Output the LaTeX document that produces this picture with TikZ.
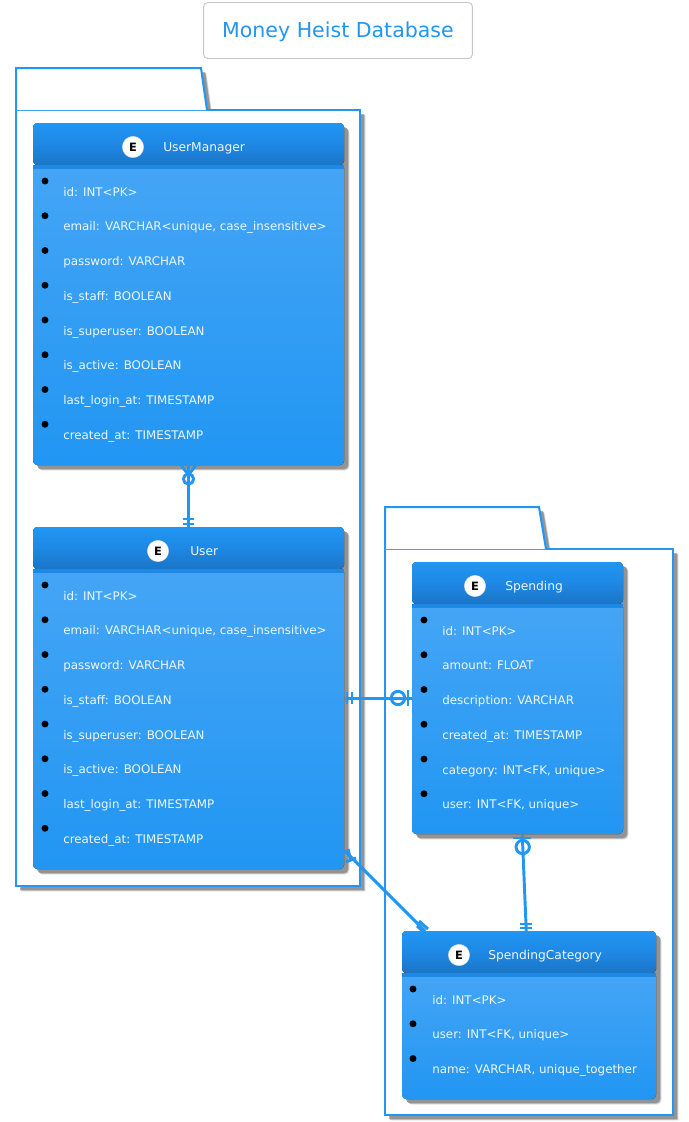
\documentclass[tikz,border=0pt]{standalone}
\usepackage{fontspec}
\setmainfont{DejaVu Sans}
\usetikzlibrary{calc}
\definecolor{blu}{HTML}{2196F3}
\definecolor{hdr}{HTML}{1A75C6}
\definecolor{sepc}{HTML}{1E88E5}
\definecolor{bodytop}{HTML}{45A5F5}
\tikzset{
  x=0.75pt,y=-0.75pt,
  rowtext/.style={anchor=west,inner sep=0pt,text height=8pt,text depth=2pt,text=white!92!blu,font=\fontsize{8.9}{10}\selectfont},
  titletext/.style={anchor=west,inner sep=0pt,text height=8pt,text depth=2pt,text=white!92!blu,font=\fontsize{9.2}{10}\selectfont},
  dotmark/.style={circle,fill=black,inner sep=0pt,minimum size=5.2pt},
  ebadge/.style={circle,fill=white,draw=white!85!black,line width=0.3pt,inner sep=0pt,minimum size=16pt,font=\fontsize{8.6}{9}\selectfont\bfseries,text=black},
  link/.style={draw=blu,line width=2.2pt},
  pkg/.style={draw=blu,line width=1.5pt,fill=white},
  ring/.style={draw=blu,line width=2.2pt,fill=none},
}
\newcommand{\softshadow}[1]{%
  \foreach \o/\a in {5.5/0.15,5/0.2,4.5/0.3,4/0.5}{
    \fill[black!55,opacity=\a,shift={(\o,\o)}] #1;
  }}
% name, x1,y1,x2,y2, title, badge x, title x
\newcommand{\entity}[8]{%
  \softshadow{[rounded corners=3pt] (#2,#3) rectangle (#4,#5)}
  \pgfmathsetmacro{\hb}{#3+42}\pgfmathsetmacro{\sb}{#3+46}
  \node[draw=none,inner sep=0pt,minimum width={(#4-#2)*0.75pt},minimum height={(#5-#3)*0.75pt},anchor=north west] (#1) at (#2,#3) {};
  \fill[rounded corners=3pt,bottom color=blu,top color=bodytop] (#2,\sb-5) rectangle (#4,#5);
  \fill[rounded corners=3pt,top color=blu,bottom color=hdr,middle color=sepc] (#2,#3) -- (#2,\hb) -- (#4,\hb) -- (#4,#3) -- cycle;
  \fill[sepc] (#2,\hb) rectangle (#4,\sb);
  \node[ebadge] (#1badge) at (#7,#3+24) {E};
  \node[titletext] (#1title) at (#8,#3+24) {#6};
}
\newcommand{\row}[5]{% name, bullet x, text x, y, text
  \node[dotmark] (#1dot) at (#2,#4-11) {};
  \node[rowtext] (#1) at (#3,#4) {#5};
}
\begin{document}
\begin{tikzpicture}
\useasboundingbox (0,0) rectangle (689,1122);
% title
\node[draw=black!22,line width=0.7pt,rounded corners=3pt,fill=white,minimum width=201.5pt,minimum height=42pt,inner sep=0pt,text height=14.8pt,text depth=3.6pt,text=blu,font=\fontsize{15.4}{18}\selectfont] (title) at (338,30.5) {Money Heist Database};
% packages
\softshadow{(16,68) -- (201,68) -- (207,110) -- (360,110) -- (360,886) -- (16,886) -- cycle}
\draw[pkg] (16,110) rectangle (360,886);
\draw[pkg] (16,110) -- (16,68) -- (201,68) -- (207,110);
\softshadow{(385,507) -- (539,507) -- (546,549) -- (673,549) -- (673,1115) -- (385,1115) -- cycle}
\draw[pkg] (385,549) rectangle (673,1115);
\draw[pkg] (385,549) -- (385,507) -- (539,507) -- (546,549);
% entities
\entity{um}{33}{123}{344}{465}{UserManager}{133}{163}
\row{umA}{45}{63}{192}{id: INT<PK>}
\row{umB}{45}{63}{226.75}{email: VARCHAR<unique, case\_insensitive>}
\row{umC}{45}{63}{261.5}{password: VARCHAR}
\row{umD}{45}{63}{296.25}{is\_staff: BOOLEAN}
\row{umE}{45}{63}{331}{is\_superuser: BOOLEAN}
\row{umF}{45}{63}{365.75}{is\_active: BOOLEAN}
\row{umG}{45}{63}{400.5}{last\_login\_at: TIMESTAMP}
\row{umH}{45}{63}{435.25}{created\_at: TIMESTAMP}
\entity{usr}{33}{527}{344}{869}{User}{158}{190}
\row{usA}{45}{63}{596}{id: INT<PK>}
\row{usB}{45}{63}{630.75}{email: VARCHAR<unique, case\_insensitive>}
\row{usC}{45}{63}{665.5}{password: VARCHAR}
\row{usD}{45}{63}{700.25}{is\_staff: BOOLEAN}
\row{usE}{45}{63}{735}{is\_superuser: BOOLEAN}
\row{usF}{45}{63}{769.75}{is\_active: BOOLEAN}
\row{usG}{45}{63}{804.5}{last\_login\_at: TIMESTAMP}
\row{usH}{45}{63}{839.25}{created\_at: TIMESTAMP}
\entity{sp}{412}{562}{623}{834}{Spending}{475}{505}
\row{spA}{424}{442}{631}{id: INT<PK>}
\row{spB}{424}{442}{665.75}{amount: FLOAT}
\row{spC}{424}{442}{700.5}{description: VARCHAR}
\row{spD}{424}{442}{735.25}{created\_at: TIMESTAMP}
\row{spE}{424}{442}{770}{category: INT<FK, unique>}
\row{spF}{424}{442}{804.75}{user: INT<FK, unique>}
\entity{cat}{402}{931}{656}{1099}{SpendingCategory}{459}{488}
\row{caA}{413}{432}{1000}{id: INT<PK>}
\row{caB}{413}{432}{1034.75}{user: INT<FK, unique>}
\row{caC}{413}{432}{1069.5}{name: VARCHAR, unique\_together}
% connectors
\draw[link] (um.south) -- (usr.north);
\draw[link] (181,465) -- (188.5,475) -- (196,465);
\draw[ring] (188.5,479) circle (3.8pt);
\draw[link] (183,519) -- (194,519) (183,524) -- (194,524);
\draw[link] (usr.east) -- (sp.west);
\draw[link] (347,692) -- (347,704) (352,692) -- (352,704);
\draw[ring] (398,698) circle (5pt);
\draw[link] (408,690) -- (408,706);
\coordinate (spout) at ($(sp.south)+(4.5,0)$);
\coordinate (catin) at ($(cat.north)+(-3,0)$);
\draw[link] (spout) -- (catin);
\draw[link] (513,838) -- (531,838);
\draw[ring] (522.7,847) circle (5pt);
\draw[link] (520,924) -- (532,924) (520,928) -- (532,928);
\coordinate (usrout) at ($(usr.south east)+(0,-19)$);
\coordinate (catinb) at ($(cat.north west)+(23,0)$);
\draw[link] (usrout) -- (catinb);
\draw[link] (348,849) -- (351,861) (346,862) -- (356,858);
\draw[link] (419,921) -- (428,929) (417,926) -- (425,933);
\end{tikzpicture}
\end{document}
